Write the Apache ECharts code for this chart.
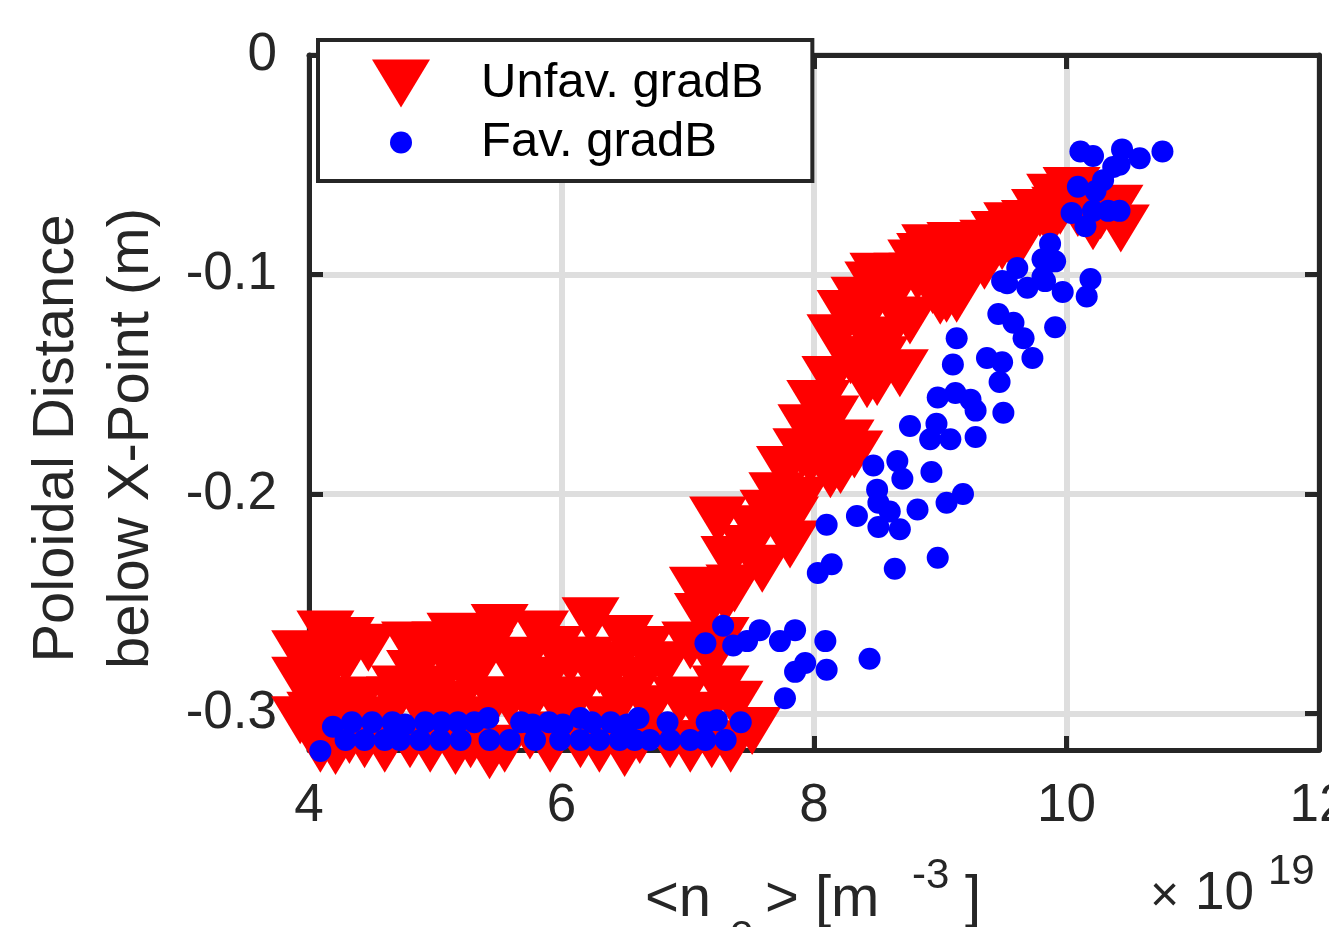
<!DOCTYPE html>
<html><head><meta charset="utf-8">
<script src="https://cdn.jsdelivr.net/npm/echarts@6/dist/echarts.min.js"></script>
<style>html,body{margin:0;padding:0;background:#fff}#c{width:1329px;height:927px}</style>
</head><body><div id="c"></div>
<script>
// Unfav. gradB (red down-triangles)
const unfavX = [4.13,3.93,4.29,4.07,3.93,4.17,4.40,4.32,4.09,4.47,4.60,4.72,4.60,4.80,4.96,4.88,5.04,5.16,5.51,5.28,5.35,5.16,5.43,5.83,5.71,5.87,5.59,5.75,5.99,6.23,6.50,6.30,6.15,6.38,6.62,6.70,6.86,6.82,7.10,7.19,7.51,7.26,7.19,7.12,5.04,6.07,
  3.93,4.17,4.68,4.84,5.12,5.39,5.63,5.95,6.19,6.42,6.66,7.02,7.26,4.05,4.29,4.52,4.92,5.16,5.47,5.75,6.11,6.46,6.94,7.37,4.21,4.44,4.96,5.28,5.55,5.91,6.30,6.50,6.62,7.02,7.34,4.29,4.80,5.31,
  7.37,7.59,7.48,7.24,7.81,7.64,7.71,7.90,8.21,8.32,8.25,8.02,7.94,8.01,8.06,
  7.30,7.33,7.53,7.81,7.89,8.13,7.77,7.97,7.08,8.13,
  8.17,8.37,8.29,8.42,8.50,8.68,8.56,8.76,8.47,8.51,8.70,8.82,8.81,8.88,8.92,8.94,9.05,9.13,9.12,9.20,9.29,9.38,9.47,9.49,9.57,9.63,9.79,9.87,9.91,9.95,10.04,10.09,10.21,10.38,10.43,
  8.60,8.96,9.16,9.35,9.71,10.15,10.27,8.25,8.52,8.13,9.59,9.00,8.36];
const unfavY = [-0.264,-0.273,-0.276,-0.289,-0.303,-0.296,-0.294,-0.312,-0.316,-0.270,-0.316,-0.289,-0.303,-0.314,-0.289,-0.276,-0.269,-0.265,-0.261,-0.285,-0.303,-0.317,-0.319,-0.264,-0.276,-0.285,-0.294,-0.310,-0.298,-0.258,-0.266,-0.280,-0.314,-0.303,-0.285,-0.298,-0.314,-0.278,-0.301,-0.314,-0.308,-0.289,-0.275,-0.256,-0.303,-0.276,
  -0.285,-0.278,-0.294,-0.282,-0.278,-0.273,-0.280,-0.271,-0.276,-0.278,-0.271,-0.269,-0.267,-0.301,-0.303,-0.308,-0.301,-0.296,-0.294,-0.296,-0.294,-0.294,-0.294,-0.296,-0.317,-0.314,-0.316,-0.314,-0.316,-0.316,-0.316,-0.318,-0.312,-0.316,-0.316,-0.267,-0.269,-0.267,
  -0.243,-0.234,-0.225,-0.212,-0.223,-0.209,-0.201,-0.181,-0.189,-0.182,-0.177,-0.174,-0.170,-0.159,-0.159,
  -0.248,-0.230,-0.216,-0.212,-0.203,-0.191,-0.189,-0.185,-0.244,-0.166,
  -0.129,-0.123,-0.139,-0.150,-0.149,-0.145,-0.130,-0.121,-0.105,-0.101,-0.101,-0.101,-0.095,-0.092,-0.088,-0.107,-0.111,-0.111,-0.087,-0.098,-0.089,-0.086,-0.082,-0.087,-0.078,-0.084,-0.072,-0.077,-0.065,-0.071,-0.062,-0.072,-0.078,-0.070,-0.079,
  -0.112,-0.098,-0.091,-0.096,-0.077,-0.066,-0.073,-0.118,-0.139,-0.148,-0.089,-0.112,-0.112];
// Fav. gradB (blue dots)
const favX = [10.11,10.21,10.44,10.58,10.76,10.42,10.37,10.29,10.09,10.23,10.33,10.42,10.21,10.04,10.15,9.87,9.81,9.91,9.61,9.49,9.69,9.81,9.97,10.19,10.16,9.53,9.83,9.46,9.58,9.66,9.73,9.91,9.13,9.10,9.37,9.49,9.47,8.98,9.12,9.24,9.28,9.50,8.76,8.97,8.92,9.08,9.28,8.47,8.66,8.70,8.93,8.50,8.51,8.60,8.34,8.82,9.05,9.18,8.10,8.51,8.68,8.14,8.03,8.64,8.98,
  7.28,7.14,7.36,7.47,7.57,7.73,7.85,8.09,7.93,7.85,8.10,8.44,7.77,
  4.19,4.34,4.50,4.66,4.76,4.92,5.05,5.18,5.31,5.42,5.68,5.77,5.90,6.01,6.15,6.24,6.39,6.52,6.61,6.84,7.15,7.23,7.42,
  4.09,4.29,4.44,4.60,4.72,4.88,5.04,5.20,5.43,5.59,5.79,5.99,6.15,6.30,6.46,6.58,6.70,6.86,7.02,7.14,7.30];
const favY = [-0.044,-0.046,-0.043,-0.047,-0.044,-0.050,-0.051,-0.057,-0.060,-0.062,-0.071,-0.071,-0.071,-0.072,-0.078,-0.086,-0.093,-0.094,-0.097,-0.103,-0.106,-0.101,-0.108,-0.102,-0.110,-0.104,-0.103,-0.118,-0.122,-0.129,-0.138,-0.124,-0.129,-0.141,-0.138,-0.140,-0.149,-0.156,-0.154,-0.157,-0.162,-0.163,-0.169,-0.168,-0.175,-0.175,-0.174,-0.187,-0.185,-0.193,-0.190,-0.198,-0.204,-0.208,-0.210,-0.207,-0.204,-0.200,-0.214,-0.215,-0.216,-0.232,-0.236,-0.234,-0.229,
  -0.260,-0.268,-0.269,-0.267,-0.262,-0.267,-0.262,-0.267,-0.277,-0.281,-0.280,-0.275,-0.293,
  -0.306,-0.304,-0.304,-0.304,-0.305,-0.304,-0.304,-0.304,-0.304,-0.302,-0.304,-0.305,-0.304,-0.305,-0.302,-0.304,-0.304,-0.305,-0.302,-0.304,-0.304,-0.303,-0.304,
  -0.317,-0.312,-0.312,-0.312,-0.312,-0.312,-0.312,-0.312,-0.312,-0.312,-0.312,-0.312,-0.312,-0.312,-0.312,-0.312,-0.312,-0.312,-0.312,-0.312,-0.312];
const xTicks = [4, 6, 8, 10, 12];
const yTicks = [-0.3, -0.2, -0.1, 0];
const seriesNames = ['Unfav. gradB', 'Fav. gradB'];

const FONT = '"Liberation Sans", Arial, Helvetica, sans-serif';
const INK = '#262626';
const zip = (xs, ys) => xs.map((x, i) => [x, ys[i]]);
const triPath = 'path://M0,0 L58,0 L29,48 Z';
const dotIcon = 'path://M0,0 M58,48 M18,24 A11,11 0 1,0 40,24 A11,11 0 1,0 18,24 Z';

const axisLineStyle = {color: INK, width: 5};
const tickStyle = {show: true, inside: true, length: 14, lineStyle: {color: INK, width: 5}};
const grid = {color: '#dedede', width: 6};

const chart = echarts.init(document.getElementById('c'), null, {renderer: 'canvas'});
chart.setOption({
  animation: false,
  backgroundColor: '#ffffff',
  textStyle: {fontFamily: FONT},
  grid: {left: 309, top: 55, right: 10, bottom: 177, containLabel: false, outerBoundsMode: 'none'},
  legend: {
    orient: 'vertical', left: 318, top: 40,
    padding: [19, 49, 14, 54],
    itemWidth: 58, itemHeight: 48, itemGap: 10,
    backgroundColor: '#ffffff', borderColor: INK, borderWidth: 4, borderRadius: 0,
    textStyle: {fontSize: 49, color: '#000', fontFamily: FONT, padding: [0, 0, 0, 46]},
    data: [{name: seriesNames[0], icon: triPath}, {name: seriesNames[1], icon: dotIcon}]
  },
  xAxis: [{
    type: 'value', min: xTicks[0], max: xTicks[xTicks.length - 1], interval: 2, position: 'bottom',
    axisLine: {show: true, onZero: false, lineStyle: axisLineStyle},
    axisTick: tickStyle,
    axisLabel: {fontSize: 53, color: INK, margin: 30, fontFamily: FONT},
    splitLine: {show: true, lineStyle: grid}
  }, {
    type: 'value', min: xTicks[0], max: xTicks[xTicks.length - 1], interval: 2, position: 'top',
    axisLine: {show: true, onZero: false, lineStyle: axisLineStyle},
    axisTick: tickStyle, axisLabel: {show: false}, splitLine: {show: false}
  }],
  yAxis: [{
    type: 'value', min: -0.3166, max: 0, position: 'left',
    axisLine: {show: true, onZero: false, lineStyle: axisLineStyle},
    axisTick: Object.assign({customValues: yTicks}, tickStyle),
    axisLabel: {customValues: yTicks, fontSize: 53, color: INK, margin: 32, fontFamily: FONT},
    splitLine: {show: true, lineStyle: grid},
    name: 'Poloidal Distance\nbelow X-Point (m)', nameLocation: 'middle', nameGap: 140,
    nameTextStyle: {fontSize: 58, lineHeight: 75, color: INK, fontFamily: FONT, padding: [0, 72, 0, 0]}
  }, {
    type: 'value', min: -0.3166, max: 0, position: 'right',
    axisLine: {show: true, onZero: false, lineStyle: axisLineStyle},
    axisTick: Object.assign({customValues: yTicks}, tickStyle),
    axisLabel: {show: false}, splitLine: {show: false}
  }],
  series: [{
    name: seriesNames[0], type: 'scatter', data: zip(unfavX, unfavY),
    symbol: triPath, symbolSize: [58, 48], clip: false,
    itemStyle: {color: '#ff0000', opacity: 1}
  }, {
    name: seriesNames[1], type: 'scatter', data: zip(favX, favY),
    symbol: 'circle', symbolSize: 22, clip: false,
    itemStyle: {color: '#0000ff', opacity: 1}
  }],
  graphic: [
    {type: 'text', x: 645, y: 871, style: {text: '<n', font: '58px ' + FONT, fill: INK}},
    {type: 'text', x: 730, y: 911, style: {text: 'e', font: '42px ' + FONT, fill: INK}},
    {type: 'text', x: 765, y: 871, style: {text: '>', font: '58px ' + FONT, fill: INK}},
    {type: 'text', x: 815, y: 871, style: {text: '[m', font: '58px ' + FONT, fill: INK}},
    {type: 'text', x: 912, y: 855, style: {text: '-3', font: '42px ' + FONT, fill: INK}},
    {type: 'text', x: 965, y: 871, style: {text: ']', font: '58px ' + FONT, fill: INK}},
    {type: 'text', x: 1150, y: 872, style: {text: '×', font: '50px ' + FONT, fill: INK}},
    {type: 'text', x: 1195, y: 868, style: {text: '10', font: '53px ' + FONT, fill: INK}},
    {type: 'text', x: 1268, y: 851, style: {text: '19', font: '42px ' + FONT, fill: INK}}
  ]
});
</script></body></html>
